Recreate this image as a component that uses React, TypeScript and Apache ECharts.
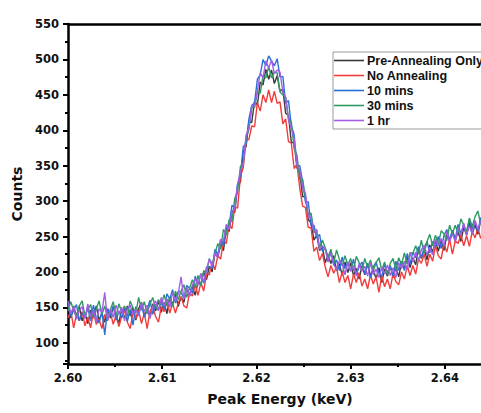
import React, { useEffect, useRef } from "react";
import * as echarts from "echarts";

// Channel energy grid (keV): start and spacing of the spectrum channels
const energyStart = 2.6;
const energyStep = 0.0003;

const seriesNames = ["Pre-Annealing Only", "No Annealing", "10 mins", "30 mins", "1 hr"];
const seriesColors = ["#3a3a3a", "#f23c3c", "#2a6fd6", "#2f9a62", "#a45ee6"];

const preAnnealing = [
  150, 135, 152, 137, 152, 131, 142, 127, 146, 135, 152, 132, 141, 129, 148, 135, 151, 138, 128, 147,
  134, 152, 138, 150, 132, 148, 157, 139, 146, 137, 155, 145, 159, 143, 157, 141, 164, 154, 169, 151,
  165, 157, 178, 166, 180, 167, 186, 182, 200, 189, 208, 200, 227, 220, 241, 230, 262, 257, 285, 284,
  321, 327, 370, 377, 412, 411, 441, 436, 468, 464, 486, 472, 485, 466, 477, 455, 458, 424, 421, 383,
  382, 347, 340, 306, 307, 274, 269, 245, 252, 230, 235, 213, 224, 212, 223, 202, 212, 195, 214, 199,
  213, 195, 205, 190, 209, 196, 212, 194, 204, 190, 206, 185, 204, 194, 209, 192, 206, 193, 214, 204,
  221, 206, 220, 210, 234, 219, 233, 217, 238, 228, 245, 229, 245, 230, 253, 243, 259, 244, 257, 243,
  263, 252, 270, 253, 267, 253, 273,
];

const noAnnealing = [
  135, 145, 121, 140, 131, 144, 124, 136, 121, 144, 126, 133, 120, 140, 131, 143, 126, 138, 123, 137,
  146, 129, 120, 143, 134, 146, 127, 142, 120, 145, 151, 137, 129, 151, 144, 158, 142, 156, 142, 156,
  165, 152, 149, 171, 166, 182, 167, 185, 173, 197, 196, 215, 203, 223, 218, 244, 240, 267, 261, 292,
  290, 335, 347, 385, 387, 406, 405, 439, 427, 450, 439, 457, 439, 455, 438, 440, 409, 416, 384, 382,
  346, 352, 318, 293, 291, 263, 262, 229, 235, 216, 226, 207, 193, 209, 198, 207, 185, 200, 185, 195,
  176, 197, 185, 199, 180, 190, 176, 196, 183, 193, 171, 195, 179, 190, 176, 198, 186, 182, 200, 190,
  209, 195, 209, 197, 218, 212, 225, 208, 225, 215, 237, 223, 218, 240, 228, 246, 225, 244, 240, 252,
  237, 251, 236, 257, 248, 262, 247,
];

const tenMins = [
  153, 137, 146, 154, 131, 142, 135, 150, 131, 153, 135, 128, 145, 111, 148, 138, 152, 132, 144, 135,
  151, 130, 147, 125, 151, 140, 155, 136, 147, 160, 140, 154, 146, 160, 147, 169, 162, 175, 156, 173,
  171, 163, 181, 177, 170, 194, 182, 198, 184, 207, 207, 205, 232, 224, 246, 237, 263, 266, 294, 291,
  324, 336, 377, 381, 416, 435, 439, 472, 478, 500, 491, 505, 498, 491, 501, 475, 476, 438, 442, 406,
  394, 350, 350, 327, 298, 299, 265, 266, 248, 253, 229, 234, 219, 230, 209, 217, 202, 221, 205, 214,
  201, 218, 197, 207, 214, 197, 211, 192, 207, 214, 198, 194, 211, 199, 208, 194, 215, 202, 215, 202,
  226, 211, 228, 220, 236, 220, 233, 243, 227, 243, 235, 250, 233, 251, 260, 245, 259, 246, 267, 254,
  267, 253, 275, 260, 271, 257, 277,
];

const thirtyMins = [
  145, 158, 145, 137, 152, 159, 138, 147, 154, 135, 148, 159, 140, 152, 133, 147, 158, 138, 155, 143,
  152, 137, 159, 149, 142, 164, 146, 158, 141, 155, 164, 148, 161, 153, 168, 152, 164, 151, 173, 161,
  173, 182, 164, 177, 189, 178, 195, 180, 202, 199, 219, 209, 226, 240, 232, 260, 252, 274, 271, 304,
  313, 349, 353, 390, 401, 432, 432, 454, 452, 477, 474, 490, 474, 482, 481, 454, 450, 447, 416, 412,
  374, 365, 330, 331, 305, 280, 283, 257, 257, 234, 245, 234, 221, 232, 212, 231, 218, 209, 223, 209,
  219, 201, 222, 213, 202, 219, 206, 217, 202, 213, 220, 202, 214, 196, 212, 219, 203, 220, 210, 227,
  211, 227, 226, 237, 225, 245, 226, 243, 253, 237, 252, 239, 258, 254, 244, 266, 254, 266, 255, 275,
  266, 257, 276, 264, 278, 286, 268,
];

const oneHour = [
  159, 141, 151, 133, 145, 151, 134, 155, 137, 146, 129, 148, 143, 171, 132, 147, 136, 153, 141, 150,
  131, 148, 153, 140, 147, 138, 156, 144, 153, 134, 152, 159, 145, 164, 152, 162, 150, 171, 159, 169,
  193, 162, 178, 166, 181, 191, 181, 197, 186, 203, 218, 208, 226, 221, 246, 244, 267, 260, 286, 289,
  324, 341, 353, 393, 403, 434, 434, 456, 481, 474, 498, 488, 499, 480, 485, 482, 454, 446, 415, 403,
  388, 351, 344, 319, 311, 278, 277, 255, 260, 232, 237, 232, 214, 227, 211, 203, 216, 211, 196, 214,
  201, 209, 194, 212, 201, 208, 194, 213, 196, 204, 192, 207, 197, 210, 195, 206, 192, 213, 205, 215,
  203, 227, 214, 228, 216, 231, 238, 224, 235, 224, 246, 237, 247, 237, 257, 243, 254, 243, 262, 252,
  269, 252, 265, 254, 273, 260, 272,
];

const allSeries = [preAnnealing, noAnnealing, tenMins, thirtyMins, oneHour];

const xMin = 2.6;
const xMax = 2.645;
const xInterval = 0.01;
const yMin = 70;
const yMax = 550;
const yStep = 50;

export default function App() {
  const ref = useRef<HTMLDivElement>(null);

  useEffect(() => {
    document.body.style.margin = "0";
    if (!ref.current) return;
    const chart = echarts.init(ref.current, undefined, { renderer: "svg" });
    const tickFont = "'DejaVu Sans', Verdana, sans-serif";
    const legendFont = "Arial, 'Liberation Sans', Helvetica, sans-serif";
    const linePath = "path://M0,6 L30,6 L30,7.6 L0,7.6 Z";

    const series = allSeries.map((vals, si) => ({
      name: seriesNames[si],
      type: "line",
      xAxisIndex: 0,
      yAxisIndex: 0,
      symbol: "none",
      showSymbol: false,
      data: vals.map((v, i) => [energyStart + i * energyStep, v]),
      lineStyle: { color: seriesColors[si], width: 1.4 },
      itemStyle: { color: seriesColors[si] },
      z: 2 + si,
      clip: true,
    }));

    chart.setOption({
      animation: false,
      backgroundColor: "#ffffff",
      textStyle: { fontFamily: tickFont },
      grid: { left: 68, top: 24, width: 424, bottom: 49, containLabel: false, outerBoundsMode: "none" },
      legend: {
        show: true,
        orient: "vertical",
        left: 333,
        top: 52,
        itemWidth: 30,
        itemHeight: 14,
        itemGap: 2,
        padding: [2, 80, 2, 1],
        borderColor: "#9a9a9a",
        borderWidth: 1,
        backgroundColor: "#ffffff",
        textStyle: { fontFamily: legendFont, fontWeight: "bold", fontSize: 12.5, color: "#111", padding: [0, 0, 0, -2] },
        data: seriesNames.map((n) => ({ name: n, icon: linePath })),
      },
      xAxis: [
        {
          type: "value",
          min: xMin,
          max: xMax,
          interval: xInterval,
          position: "bottom",
          name: "Peak Energy (keV)",
          nameLocation: "middle",
          nameGap: 28,
          nameTextStyle: { fontFamily: tickFont, fontWeight: "bold", fontSize: 14, color: "#111" },
          axisLine: { show: true, onZero: false, lineStyle: { color: "#000", width: 2.5 } },
          axisTick: { show: true, inside: false, length: 5, lineStyle: { color: "#000", width: 2 } },
          minorTick: { show: true, splitNumber: 2, length: 3, lineStyle: { color: "#000", width: 2 } },
          splitLine: { show: false },
          axisLabel: {
            show: true,
            margin: 8,
            fontFamily: tickFont,
            fontWeight: "bold",
            fontSize: 11.5,
            color: "#111",
            showMaxLabel: false,
            formatter: (v: number) => v.toFixed(2),
          },
        },
        {
          type: "value",
          min: xMin,
          max: xMax,
          interval: xInterval,
          position: "top",
          axisLine: { show: true, onZero: false, lineStyle: { color: "#000", width: 2.5 } },
          axisTick: { show: false },
          axisLabel: { show: false },
          splitLine: { show: false },
        },
      ],
      yAxis: [
        {
          type: "value",
          min: yMin,
          max: yMax,
          minInterval: yStep,
          maxInterval: yStep,
          name: "Counts",
          nameLocation: "middle",
          nameGap: 44,
          nameTextStyle: { fontFamily: tickFont, fontWeight: "bold", fontSize: 14, color: "#111" },
          axisLine: { show: true, onZero: false, lineStyle: { color: "#000", width: 2.5 } },
          axisTick: { show: true, inside: false, length: 5, lineStyle: { color: "#000", width: 2 } },
          minorTick: { show: true, splitNumber: 2, length: 3, lineStyle: { color: "#000", width: 2 } },
          splitLine: { show: false },
          axisLabel: {
            show: true,
            margin: 9,
            fontFamily: tickFont,
            fontWeight: "bold",
            fontSize: 11.5,
            color: "#111",
            showMinLabel: false,
          },
        },
      ],
      series,
    });

    return () => chart.dispose();
  }, []);

  return <div ref={ref} style={{ width: 481, height: 413 }} />;
}
